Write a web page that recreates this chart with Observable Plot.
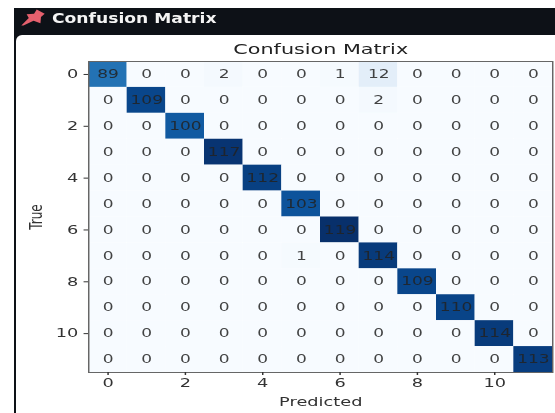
<!DOCTYPE html>
<html>
<head>
<meta charset="utf-8">
<script src="https://cdn.jsdelivr.net/npm/d3@7"></script>
<script src="https://cdn.jsdelivr.net/npm/@observablehq/plot@0.6"></script>
<style>
html,body{margin:0;padding:0;background:#fff;width:555px;height:413px;overflow:hidden;font-family:"DejaVu Sans",sans-serif}
#win{position:absolute;left:14px;top:8px;width:541px;height:405px;background:#0d1117}
#panel{position:absolute;left:2px;top:27px;right:0;bottom:0;background:#fff;border-top-left-radius:6px}
#head{position:absolute;left:52px;top:10px;color:#f4f4f4;font-weight:700;font-size:13.5px;white-space:nowrap;transform:scaleX(1.27);transform-origin:left top}
#pin{position:absolute;left:20px;top:9px}
#chart{position:absolute;left:0;top:0;width:555px;height:413px}
#chart svg{transform:scaleX(1.48);transform-origin:0 0;overflow:visible;background:transparent;filter:blur(.35px)}
</style>
</head>
<body>
<div id="win"><div id="panel"></div></div>
<svg id="pin" width="26" height="17" viewBox="0 0 24 16"><path d="M1 15.5 L8 8.5 L6 5 L13 4.5 L15.5 0.5 L23 4.5 L19.5 7.5 L19 13.5 L12.5 11 L3 15.5 Z" fill="#e4606d"/></svg>
<div id="head">Confusion Matrix</div>
<div id="chart"></div>
<script>
const classes = [0,1,2,3,4,5,6,7,8,9,10,11];
const tickValues = [0,2,4,6,8,10];
const row0  = [89,0,0,2,0,0,1,12,0,0,0,0];
const row1  = [0,109,0,0,0,0,0,2,0,0,0,0];
const row2  = [0,0,100,0,0,0,0,0,0,0,0,0];
const row3  = [0,0,0,117,0,0,0,0,0,0,0,0];
const row4  = [0,0,0,0,112,0,0,0,0,0,0,0];
const row5  = [0,0,0,0,0,103,0,0,0,0,0,0];
const row6  = [0,0,0,0,0,0,119,0,0,0,0,0];
const row7  = [0,0,0,0,0,1,0,114,0,0,0,0];
const row8  = [0,0,0,0,0,0,0,0,109,0,0,0];
const row9  = [0,0,0,0,0,0,0,0,0,110,0,0];
const row10 = [0,0,0,0,0,0,0,0,0,0,114,0];
const row11 = [0,0,0,0,0,0,0,0,0,0,0,113];
const rows = [row0,row1,row2,row3,row4,row5,row6,row7,row8,row9,row10,row11];
const table = rows.flatMap((r,i)=>r.map((v,j)=>({t:i,p:j,v})));

const sx = 1.48;
const plot = Plot.plot({
  width: 555/sx,
  height: 413,
  marginLeft: 88/sx,
  marginRight: 3/sx,
  marginTop: 61,
  marginBottom: 41,
  style: {fontFamily:'"DejaVu Sans",sans-serif', fontSize:"12px", color:"#333", background:"transparent"},
  x: {domain: classes, padding: 0, round: false},
  y: {domain: classes, padding: 0, round: false},
  color: {type:"linear", scheme:"Blues", domain:[0,119]},
  marks: [
    Plot.cell(table,{x:"p",y:"t",fill:"v"}),
    Plot.text(table,{x:"p",y:"t",text:"v",fill:"#222",fillOpacity:.85,fontSize:11.5}),
    Plot.frame({stroke:"#666",strokeWidth:1}),
    Plot.axisX({ticks:tickValues,tickSize:3,tickPadding:3,label:"Predicted",labelAnchor:"center",labelArrow:"none",labelOffset:33,fontSize:12}),
    Plot.axisY({ticks:tickValues,tickSize:3,tickPadding:4,label:"True",labelAnchor:"center",labelArrow:"none",labelOffset:40,fontSize:12}),
    Plot.text(["Confusion Matrix"],{frameAnchor:"top",dy:-8,lineAnchor:"bottom",fill:"#222",fontSize:14})
  ]
});
document.getElementById("chart").append(plot);
</script>
</body>
</html>
